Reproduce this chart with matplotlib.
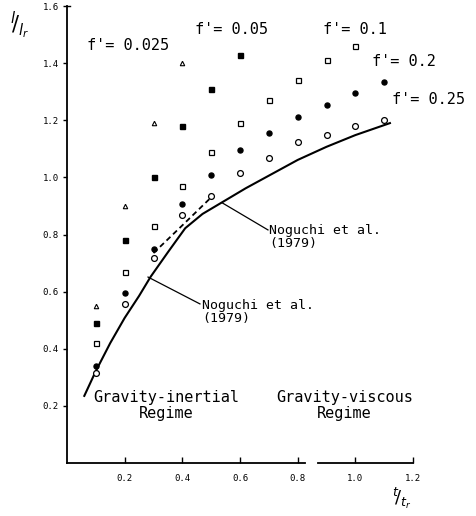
import matplotlib
matplotlib.use("Agg")
import matplotlib.pyplot as plt

plt.rcParams['font.family'] = ['DejaVu Sans Mono']

# --- data ---
# f' = 0.025 (open triangles)
t_a = [0.1, 0.2, 0.3, 0.4]
l_a = [0.55, 0.90, 1.19, 1.40]
# f' = 0.05 (filled squares)
t_b = [0.1, 0.2, 0.3, 0.4, 0.5, 0.6]
l_b = [0.49, 0.78, 1.00, 1.18, 1.31, 1.43]
# f' = 0.1 (open squares)
t_c = [0.1, 0.2, 0.3, 0.4, 0.5, 0.6, 0.7, 0.8, 0.9, 1.0]
l_c = [0.42, 0.67, 0.83, 0.97, 1.09, 1.19, 1.27, 1.34, 1.41, 1.46]
# f' = 0.2 (filled circles)
t_d = [0.1, 0.2, 0.3, 0.4, 0.5, 0.6, 0.7, 0.8, 0.9, 1.0, 1.1]
l_d = [0.34, 0.595, 0.75, 0.907, 1.01, 1.096, 1.155, 1.21, 1.253, 1.295, 1.334]
# f' = 0.25 (open circles)
t_e = [0.1, 0.2, 0.3, 0.4, 0.5, 0.6, 0.7, 0.8, 0.9, 1.0, 1.1]
l_e = [0.315, 0.557, 0.716, 0.868, 0.935, 1.015, 1.068, 1.124, 1.148, 1.18, 1.20]

# Noguchi et al. (1979) curve, gravity-inertial and gravity-viscous parts
t_nog = [0.06, 0.1, 0.15, 0.2, 0.25, 0.29, 0.35, 0.41,
         0.47, 0.54, 0.62, 0.70, 0.80, 0.90, 1.00, 1.12]
l_nog = [0.235, 0.322, 0.42, 0.508, 0.585, 0.652, 0.738, 0.822,
         0.872, 0.914, 0.962, 1.006, 1.061, 1.107, 1.148, 1.19]
# dashed line
t_dash = [0.3, 0.4, 0.5]
l_dash = [0.735, 0.832, 0.93]

xticks = [0.2, 0.4, 0.6, 0.8, 1.0, 1.2]
yticks = [0.2, 0.4, 0.6, 0.8, 1.0, 1.2, 1.4, 1.6]

fig = plt.figure(figsize=(4.76, 5.16), dpi=100)
ax = fig.add_axes([67 / 476, 1 - 463 / 516, 346 / 476, 457 / 516])

ax.plot(t_nog, l_nog, color='black', lw=1.5)
ax.plot(t_dash, l_dash, color='black', lw=1.3, ls=(0, (3, 2)))

ms = 3.6
ax.plot(t_a, l_a, ls='none', marker='^', ms=3.2, mfc='white', mec='black', mew=0.8)
ax.plot(t_b, l_b, ls='none', marker='s', ms=3.6, mfc='black', mec='black')
ax.plot(t_c, l_c, ls='none', marker='s', ms=ms, mfc='white', mec='black', mew=0.9)
ax.plot(t_d, l_d, ls='none', marker='o', ms=ms, mfc='black', mec='black')
ax.plot(t_e, l_e, ls='none', marker='o', ms=4.2, mfc='white', mec='black', mew=0.9)

ax.set_xlim(0, 1.2)
ax.set_ylim(0, 1.6)
ax.set_xticks(xticks)
ax.set_xticklabels(['0.2', '0.4', '0.6', '0.8', '1.0', '1.2'])
ax.set_yticks(yticks)
ax.set_yticklabels(['0.2', '0.4', '0.6', '0.8', '1.0', '1.2', '1.4', '1.6'])
ax.tick_params(axis='x', direction='in', length=4, width=1, labelsize=6.5, pad=8)
ax.tick_params(axis='y', direction='out', length=3, width=1, labelsize=6.5, pad=3)

for s in ['top', 'right', 'bottom']:
    ax.spines[s].set_visible(False)
ax.spines['left'].set_linewidth(1.3)
# broken x axis
ax.plot([0, 0.825], [0, 0], color='black', lw=1.3, clip_on=False)
ax.plot([0.87, 1.2], [0, 0], color='black', lw=1.3, clip_on=False)
ax.plot([0, 0.012], [1.6, 1.6], color='black', lw=1.0, clip_on=False)

fs = 11
ax.text(0.069, 1.463, "f'= 0.025", fontsize=fs, va='center')
ax.text(0.444, 1.516, "f'= 0.05", fontsize=fs, va='center')
ax.text(0.888, 1.516, "f'= 0.1", fontsize=fs, va='center')
ax.text(1.058, 1.407, "f'= 0.2", fontsize=fs, va='center')
ax.text(1.127, 1.271, "f'= 0.25", fontsize=fs, va='center')

# Noguchi labels with leader lines
ax.plot([0.538, 0.697], [0.911, 0.816], color='black', lw=0.9)
ax.text(0.70, 0.79, "Noguchi et al.\n(1979)", fontsize=9.5, va='center', linespacing=1.0)
ax.plot([0.281, 0.461], [0.651, 0.557], color='black', lw=0.9)
ax.text(0.468, 0.529, "Noguchi et al.\n(1979)", fontsize=9.5, va='center', linespacing=1.0)

ax.text(0.345, 0.20, "Gravity-inertial\nRegime", fontsize=11, ha='center', va='center',
        linespacing=1.1)
ax.text(0.963, 0.20, "Gravity-viscous\nRegime", fontsize=11, ha='center', va='center',
        linespacing=1.1)

# axis labels
fig.text(10 / 476, 1 - 25 / 516, r'$^{l}\!/_{l_{r}}$', fontsize=15, va='center')
fig.text(392 / 476, 1 - 511 / 516, r'$^{t}\!/_{t_{r}}$', fontsize=13, va='bottom')

fig.savefig('out.png', dpi=100)
